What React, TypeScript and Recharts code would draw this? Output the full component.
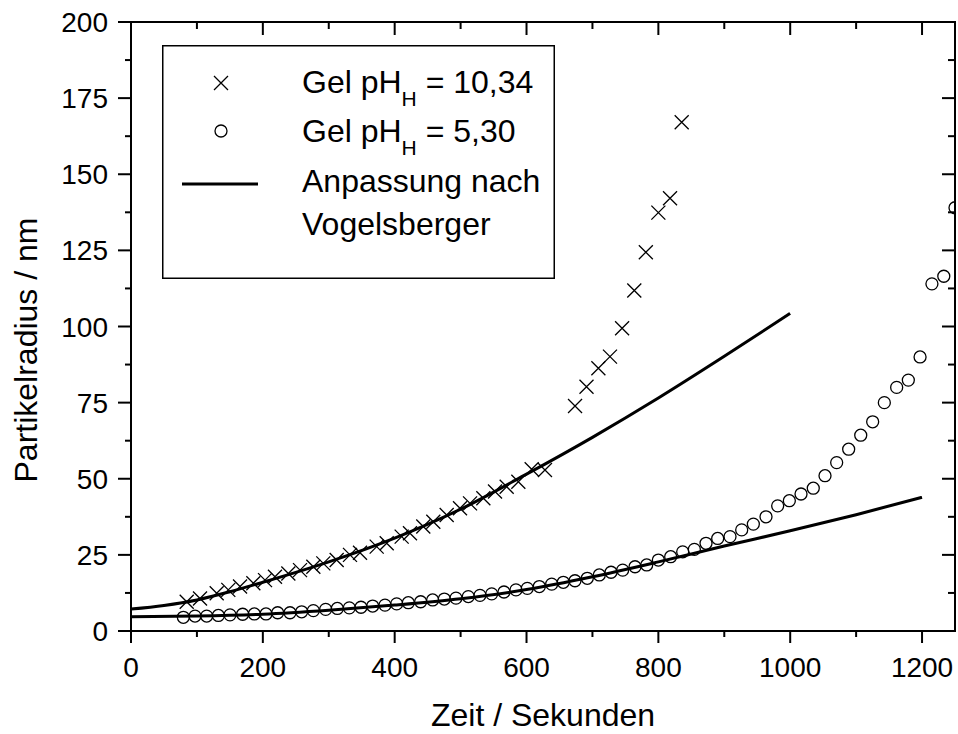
import { ComposedChart, Scatter, Line, XAxis, YAxis, Legend, Label } from "recharts";

// Gel pH_H = 10,34 (crosses)
const highTime = [
  84.5, 104.7, 130, 147.6, 165.4, 185.6, 203.3, 218.4, 238.7, 256.4, 276.6, 291.7, 312, 332.2, 347.4,
  372.7, 387.9, 410.6, 423.2, 443.4, 458.6, 478.9, 499.1, 514.3, 534.5, 552.2, 569.9, 587.6, 607.8, 628,
  673.6, 691, 709, 726.6, 745, 763.5, 781, 800, 817.7, 835.4,
];
const highRadius = [
  9.6, 10.7, 12.4, 13.5, 14.6, 15.7, 16.7, 17.8, 18.9, 20.0, 21.1, 22.2, 23.3, 25.0, 25.7,
  27.7, 28.8, 31.0, 32.1, 34.3, 35.9, 38.1, 40.3, 41.9, 43.6, 45.8, 47.4, 49.0, 53.1, 52.9,
  73.9, 80.2, 86.3, 90.1, 99.4, 111.8, 124.4, 137.4, 142.1, 167.1,
];

// Gel pH_H = 5,30 (open circles)
const lowTime = [
  79.4, 97.1, 114.8, 132.5, 150.2, 169.4, 187.1, 204.8, 222.5, 241.2, 258.9, 276.6, 295.3, 313, 331.2,
  348.9, 366.6, 385.3, 403, 420.7, 439.4, 457.6, 475.3, 493, 511.7, 529.4, 547.2, 565.8, 584, 601.2,
  619.4, 638.2, 655.8, 673.5, 692.2, 710.4, 728.2, 745.9, 764.6, 782.3, 800, 818.7, 836.9, 854.6, 872.3,
  890, 908.7, 926.4, 944.1, 963.3, 981, 998.7, 1016.4, 1035, 1052.8, 1070.5, 1088.7, 1107, 1125.1, 1142.8,
  1161.5, 1179.2, 1197, 1215, 1233, 1250,
];
const lowRadius = [
  4.5, 4.9, 4.9, 5.1, 5.3, 5.5, 5.6, 5.6, 6.0, 6.0, 6.3, 6.7, 7.1, 7.4, 7.6,
  7.8, 8.2, 8.5, 8.9, 9.3, 9.6, 10.2, 10.5, 10.8, 11.3, 11.7, 12.2, 12.8, 13.5, 14.0,
  14.6, 15.4, 16.0, 16.5, 17.3, 18.4, 19.3, 20.0, 21.1, 21.7, 23.3, 24.4, 26.0, 26.8, 28.8,
  30.4, 31.0, 33.2, 35.1, 37.5, 41.1, 42.8, 45.0, 46.9, 51.0, 55.3, 59.7, 64.3, 68.7, 75.0,
  80.0, 82.4, 90.0, 114.0, 116.5, 139.0,
];

// Vogelsberger fits
const fitHighTime = [0, 50, 100, 150, 200, 300, 400, 500, 600, 700, 800, 900, 1000];
const fitHighRadius = [7.2, 8.4, 10.2, 12.9, 16.0, 22.7, 30.5, 40.0, 51.5, 63.6, 76.5, 90.2, 104.3];
const fitLowTime = [0, 100, 200, 300, 400, 500, 600, 700, 800, 900, 1000, 1100, 1200];
const fitLowRadius = [4.7, 4.9, 5.5, 6.8, 8.5, 10.6, 13.6, 17.8, 22.7, 27.9, 32.9, 38.2, 43.9];

const xTicks = [0, 100, 200, 300, 400, 500, 600, 700, 800, 900, 1000, 1100, 1200];
const xLabels = [0, 200, 400, 600, 800, 1000, 1200];
const yTicks = [
  0, 12.5, 25, 37.5, 50, 62.5, 75, 87.5, 100, 112.5, 125, 137.5, 150, 162.5, 175, 187.5, 200,
];
const yLabels = [0, 25, 50, 75, 100, 125, 150, 175, 200];

const zip = (t: number[], r: number[]) => t.map((v, i) => ({ t: v, r: r[i] }));
const highData = zip(highTime, highRadius);
const lowData = zip(lowTime, lowRadius);
const fitHigh = zip(fitHighTime, fitHighRadius);
const fitLow = zip(fitLowTime, fitLowRadius);

const FONT = "'Liberation Sans', Arial, sans-serif";

const crossPath = (cx: number, cy: number, s: number) =>
  `M${cx - s},${cy - s}L${cx + s},${cy + s}M${cx + s},${cy - s}L${cx - s},${cy + s}`;

const CrossShape = (props: any) => (
  <path d={crossPath(props.cx, props.cy, 7)} stroke="#000" strokeWidth={1.3} fill="none" />
);
const RingShape = (props: any) => (
  <circle cx={props.cx} cy={props.cy} r={6} stroke="#000" strokeWidth={1.3} fill="none" />
);

// tick marks are drawn by hand so the minor ones can be shorter
const BottomTick = ({ x, y, payload }: any) => {
  const major = xLabels.includes(payload.value);
  return (
    <g>
      <line x1={x} y1={y} x2={x} y2={y + (major ? 12 : 6)} stroke="#000" strokeWidth={2} />
      {major && (
        <text x={x} y={y + 46} textAnchor="middle" fontSize={28} fontFamily={FONT} fill="#000">
          {payload.value}
        </text>
      )}
    </g>
  );
};

const TopTick = ({ x, y, payload }: any) => {
  const major = xLabels.includes(payload.value);
  return <line x1={x} y1={y} x2={x} y2={y + (major ? 13 : 7)} stroke="#000" strokeWidth={2} />;
};

const LeftTick = ({ x, y, payload }: any) => {
  const major = yLabels.includes(payload.value);
  return (
    <g>
      <line x1={x} y1={y} x2={x - (major ? 13 : 6)} y2={y} stroke="#000" strokeWidth={2} />
      {major && (
        <text x={x - 23} y={y + 10} textAnchor="end" fontSize={28} fontFamily={FONT} fill="#000">
          {payload.value}
        </text>
      )}
    </g>
  );
};

const RightTick = ({ x, y, payload }: any) => {
  const major = yLabels.includes(payload.value);
  return <line x1={x} y1={y} x2={x - (major ? 13 : 7)} y2={y} stroke="#000" strokeWidth={2} />;
};

const LegendBox = () => (
  <svg width={393} height={234} style={{ display: "block" }}>
    <rect x={0.75} y={0.75} width={391.5} height={232.5} fill="#fff" stroke="#000" strokeWidth={1.5} />
    <path d={crossPath(59, 38, 7)} stroke="#000" strokeWidth={1.3} fill="none" />
    <circle cx={59} cy={86} r={6} stroke="#000" strokeWidth={1.3} fill="none" />
    <line x1={20} y1={139} x2={96} y2={139} stroke="#000" strokeWidth={3} />
    <g fontFamily={FONT} fontSize={32} fill="#000">
      <text x={140} y={48}>
        Gel pH
        <tspan fontSize={21} dy={13}>H</tspan>
        <tspan dy={-13}> = 10,34</tspan>
      </text>
      <text x={140} y={97}>
        Gel pH
        <tspan fontSize={21} dy={13}>H</tspan>
        <tspan dy={-13}> = 5,30</tspan>
      </text>
      <text x={140} y={147}>Anpassung nach</text>
      <text x={140} y={190}>Vogelsberger</text>
    </g>
  </svg>
);

const axisLine = { stroke: "#000", strokeWidth: 2, strokeLinecap: "square" as const };

export default function App() {
  return (
    <div style={{ position: "absolute", left: 0, top: 0, background: "#fff" }}>
      <ComposedChart width={958} height={734} margin={{ top: 21, right: 2, bottom: 73, left: 101 }}>
        <XAxis
          xAxisId="b"
          dataKey="t"
          type="number"
          domain={[0, 1250]}
          ticks={xTicks}
          interval={0}
          allowDataOverflow
          height={30}
          tickSize={0}
          tickMargin={0}
          tickLine={false}
          axisLine={axisLine}
          tick={BottomTick}
        >
          <Label
            content={() => (
              <text x={543} y={726} textAnchor="middle" fontSize={32} fontFamily={FONT} fill="#000">
                Zeit / Sekunden
              </text>
            )}
          />
        </XAxis>
        <XAxis
          xAxisId="t"
          orientation="top"
          dataKey="t"
          type="number"
          domain={[0, 1250]}
          ticks={xTicks}
          interval={0}
          allowDataOverflow
          height={1}
          tickSize={0}
          tickMargin={0}
          tickLine={false}
          axisLine={axisLine}
          tick={TopTick}
        />
        <YAxis
          yAxisId="l"
          dataKey="r"
          type="number"
          domain={[0, 200]}
          ticks={yTicks}
          interval={0}
          allowDataOverflow
          width={30}
          tickSize={0}
          tickMargin={0}
          tickLine={false}
          axisLine={axisLine}
          tick={LeftTick}
        >
          <Label
            content={() => (
              <text
                x={37}
                y={350}
                transform="rotate(-90, 37, 350)"
                textAnchor="middle"
                fontSize={32}
                fontFamily={FONT}
                fill="#000"
              >
                Partikelradius / nm
              </text>
            )}
          />
        </YAxis>
        <YAxis
          yAxisId="r"
          orientation="right"
          dataKey="r"
          type="number"
          domain={[0, 200]}
          ticks={yTicks}
          interval={0}
          allowDataOverflow
          width={1}
          tickSize={0}
          tickMargin={0}
          tickLine={false}
          axisLine={axisLine}
          tick={RightTick}
        />
        <Line
          xAxisId="b"
          yAxisId="l"
          data={fitHigh}
          dataKey="r"
          type="monotone"
          stroke="#000"
          strokeWidth={3}
          dot={false}
          isAnimationActive={false}
        />
        <Line
          xAxisId="b"
          yAxisId="l"
          data={fitLow}
          dataKey="r"
          type="monotone"
          stroke="#000"
          strokeWidth={3}
          dot={false}
          isAnimationActive={false}
        />
        <Scatter
          xAxisId="b"
          yAxisId="l"
          data={highData}
          dataKey="r"
          shape={CrossShape}
          isAnimationActive={false}
        />
        <Scatter
          xAxisId="b"
          yAxisId="l"
          data={lowData}
          dataKey="r"
          shape={RingShape}
          isAnimationActive={false}
        />
        <Legend
          layout="vertical"
          align="center"
          verticalAlign="middle"
          wrapperStyle={{ position: "absolute", left: 162, top: 45, width: 393, height: 234 }}
          content={() => <LegendBox />}
        />
      </ComposedChart>
    </div>
  );
}
